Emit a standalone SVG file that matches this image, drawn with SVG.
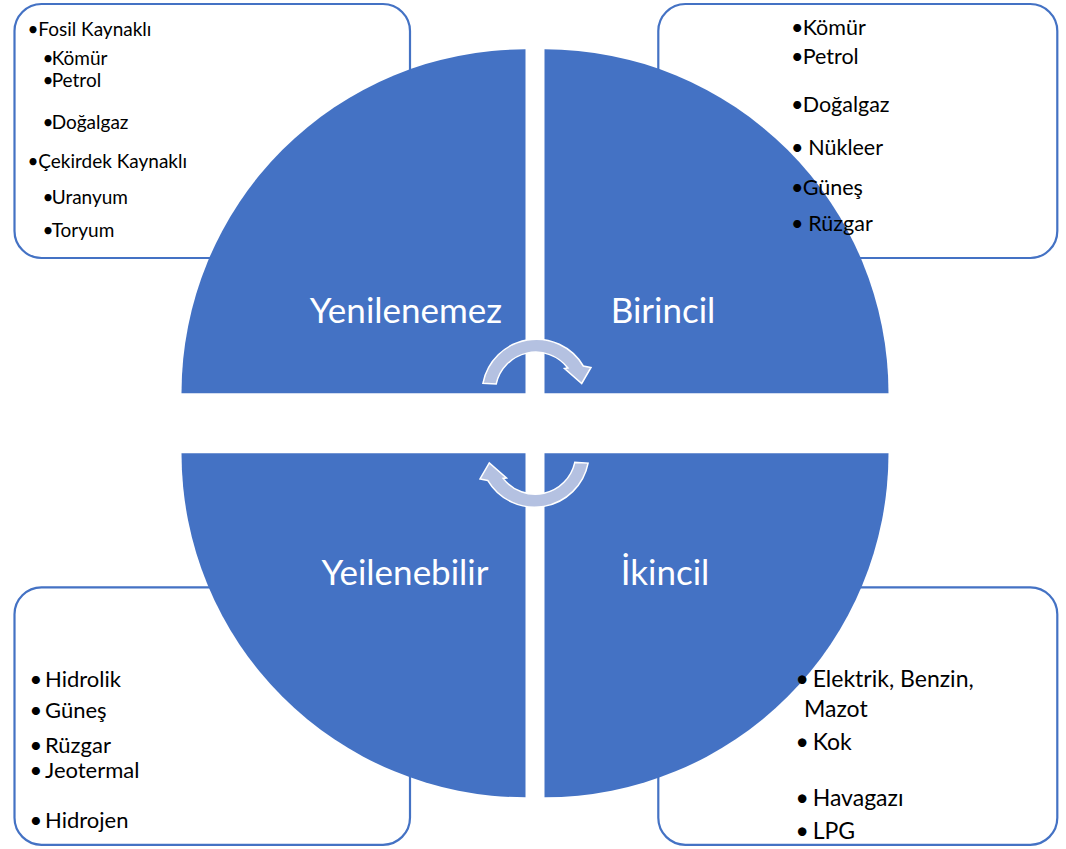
<svg xmlns="http://www.w3.org/2000/svg" xmlns:xlink="http://www.w3.org/1999/xlink" width="1066" height="849" viewBox="0 0 1066 849">
  <style>
    .quad { fill: #4472C4; }
    .box { fill: #FFFFFF; stroke: #4472C4; stroke-width: 2.2; }
    .label { font-family: Lato, "Liberation Sans", sans-serif; font-size: 35px; fill: #FFFFFF; text-anchor: middle; }
    .item { font-family: Lato, "Liberation Sans", sans-serif; fill: #000000; }
    .s19 { font-size: 19px; }
    .s21 { font-size: 21.5px; }
    .s22 { font-size: 22px; }
    .s23 { font-size: 23px; }
    .arrow { fill: #B4C1E1; stroke: #FFFFFF; stroke-width: 1.5; stroke-linejoin: miter; }
  </style>
  <defs>
    <path id="arrowTop" d="M 482.9 383.3 A 54.5 54.5 0 0 1 583.3 366 L 591 367.5 L 581.7 383.5 L 564.5 368.5 L 567.9 368 A 40.5 40.5 0 0 0 496.2 384 Z"/>
  </defs>

  <!-- outer boxes (white fill, drawn under the circle) -->
  <g id="box-yenilenemez-frame"><rect class="box" x="14.5" y="4" width="395.5" height="254" rx="27"/></g>
  <g id="box-birincil-frame"><rect class="box" x="658.3" y="4" width="399" height="254" rx="27"/></g>
  <g id="box-yenilenebilir-frame"><rect class="box" x="14.5" y="587.3" width="395.5" height="257.5" rx="27"/></g>
  <g id="box-ikincil-frame"><rect class="box" x="658.3" y="587.3" width="399" height="257.5" rx="27"/></g>

  <!-- circle quadrants -->
  <g id="node-yenilenemez">
    <path class="quad" d="M 525.5 393.3 L 181.5 393.3 A 344 344 0 0 1 525.5 49.3 Z"/>
    <text class="label" x="406" y="322.5">Yenilenemez</text>
  </g>
  <g id="node-birincil">
    <path class="quad" d="M 544.5 393.3 L 544.5 49.3 A 344 344 0 0 1 888.5 393.3 Z"/>
    <text class="label" x="663" y="322.5">Birincil</text>
  </g>
  <g id="node-yenilenebilir">
    <path class="quad" d="M 525.5 453.3 L 525.5 797.3 A 344 344 0 0 1 181.5 453.3 Z"/>
    <text class="label" x="405" y="585">Yeilenebilir</text>
  </g>
  <g id="node-ikincil">
    <path class="quad" d="M 544.5 453.3 L 888.5 453.3 A 344 344 0 0 1 544.5 797.3 Z"/>
    <text class="label" x="665" y="585">İkincil</text>
  </g>

  <!-- connectors: circular arrows -->
  <g id="connectors">
    <use xlink:href="#arrowTop" href="#arrowTop" class="arrow"/>
    <use xlink:href="#arrowTop" href="#arrowTop" class="arrow" transform="rotate(180 535.5 423.2)"/>
  </g>

  <!-- box texts -->
  <g id="box-yenilenemez-text" class="item s19">
    <text><tspan x="27.5" y="36">•</tspan><tspan x="38.3" y="36">Fosil Kaynaklı</tspan></text>
    <text><tspan x="42.5" y="65">•</tspan><tspan x="51.7" y="65">Kömür</tspan></text>
    <text><tspan x="42.5" y="87">•</tspan><tspan x="51.7" y="87">Petrol</tspan></text>
    <text><tspan x="42.5" y="129">•</tspan><tspan x="51.7" y="129">Doğalgaz</tspan></text>
    <text><tspan x="27.5" y="168">•</tspan><tspan x="38.3" y="168">Çekirdek Kaynaklı</tspan></text>
    <text><tspan x="42.5" y="204">•</tspan><tspan x="51.7" y="204">Uranyum</tspan></text>
    <text><tspan x="42.5" y="237">•</tspan><tspan x="51.7" y="237">Toryum</tspan></text>
  </g>
  <g id="box-birincil-text" class="item s21">
    <text><tspan x="791" y="35">•</tspan><tspan x="802.7" y="35">Kömür</tspan></text>
    <text><tspan x="791" y="64">•</tspan><tspan x="802.7" y="64">Petrol</tspan></text>
    <text><tspan x="791" y="112">•</tspan><tspan x="802.7" y="112">Doğalgaz</tspan></text>
    <text><tspan x="791" y="155">•</tspan><tspan x="808.3" y="155">Nükleer</tspan></text>
    <text><tspan x="791" y="195">•</tspan><tspan x="802.7" y="195">Güneş</tspan></text>
    <text><tspan x="791" y="231">•</tspan><tspan x="808.3" y="231">Rüzgar</tspan></text>
  </g>
  <g id="box-yenilenebilir-text" class="item s22">
    <text><tspan x="29.5" y="687">•</tspan><tspan x="45" y="687">Hidrolik</tspan></text>
    <text><tspan x="29.5" y="718">•</tspan><tspan x="45" y="718">Güneş</tspan></text>
    <text><tspan x="29.5" y="753">•</tspan><tspan x="45" y="753">Rüzgar</tspan></text>
    <text><tspan x="29.5" y="778">•</tspan><tspan x="45" y="778">Jeotermal</tspan></text>
    <text><tspan x="29.5" y="828">•</tspan><tspan x="45" y="828">Hidrojen</tspan></text>
  </g>
  <g id="box-ikincil-text" class="item s23">
    <text><tspan x="795.5" y="687">•</tspan><tspan x="812.7" y="687">Elektrik, Benzin,</tspan></text>
    <text><tspan x="804" y="717">Mazot</tspan></text>
    <text><tspan x="795.5" y="750">•</tspan><tspan x="812.7" y="750">Kok</tspan></text>
    <text><tspan x="795.5" y="806">•</tspan><tspan x="812.7" y="806">Havagazı</tspan></text>
    <text><tspan x="795.5" y="839">•</tspan><tspan x="812.7" y="839">LPG</tspan></text>
  </g>
</svg>
